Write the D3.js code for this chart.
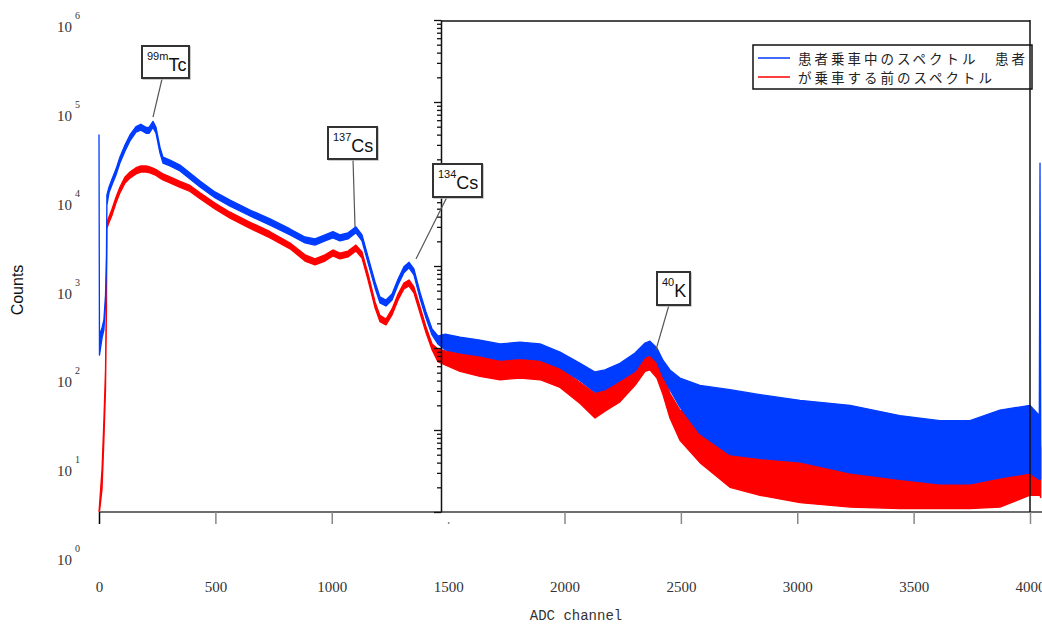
<!DOCTYPE html>
<html>
<head>
<meta charset="utf-8">
<script src="https://cdn.jsdelivr.net/npm/d3@7"></script>
<style>
  body { margin: 0; background: #fff; }
  svg { display: block; }
</style>
</head>
<body>
<script>
const channels = [0, 2, 13, 21, 28, 32, 34, 43, 56, 73, 90, 112, 133, 159, 180, 202, 215, 232, 245, 262,
  275, 305, 348, 391, 434, 498, 563, 649, 735, 821, 885, 928, 971, 1005, 1035, 1070, 1104, 1130, 1156,
  1186, 1207, 1233, 1259, 1285, 1310, 1332, 1353, 1379, 1405, 1431, 1456, 1487, 1551, 1637, 1723, 1809,
  1895, 1981, 2067, 2131, 2174, 2238, 2303, 2346, 2367, 2397, 2423, 2453, 2496, 2582, 2711, 2840, 3012,
  3227, 3441, 3613, 3742, 3871, 4000, 4040, 4043, 4046]

// patient on board: upper / lower edge of the noisy trace (counts)
const patientHi = [39600, 143, 176, 220, 442, 1370, 7340, 9200, 11500, 15200, 21300, 30000, 39600, 50000,
  53500, 49000, 49000, 58000, 49000, 28000, 21300, 19600, 17000, 13600, 10900, 8000, 6370, 4820, 3750,
  2830, 2260, 2140, 2400, 2620, 2400, 2540, 3000, 2400, 1290, 640, 420, 385, 455, 695, 980, 1110, 920,
  480, 275, 171, 140, 148, 136, 125, 112, 118, 112, 89, 65, 51, 54, 65, 87, 115, 121, 100, 71, 54, 43,
  35, 31, 27, 23, 20, 15, 13, 13, 17.5, 20, 15, 18000, 12]
const patientLo = [39600, 82, 132, 166, 335, 1030, 5530, 7800, 9800, 12900, 18000, 25300, 33500, 43000,
  45400, 41500, 41500, 49000, 41500, 23800, 18000, 16600, 14400, 11500, 9200, 6800, 5350, 4070, 3150,
  2400, 1910, 1800, 2020, 2200, 2020, 2140, 2540, 2020, 1090, 540, 355, 325, 385, 590, 827, 950, 780,
  405, 232, 144, 112, 95, 87, 80, 71, 75, 71, 57, 40, 29, 31, 40, 52, 78, 82, 67, 45, 31, 19,
  9, 5, 4.5, 4.1, 3, 2.5, 2.2, 2.2, 2.6, 3, 2.5, 18000, 2.5]

// before the patient boarded
const beforeHi = [1, 1.2, 3.3, 13, 54, 510, 3420, 4000, 4950, 6900, 9200, 12200, 14000, 15800,
  16600, 16600, 16300, 15600, 15000, 14000, 13300, 12200, 10800, 9600, 7800, 5850, 4530, 3420, 2620,
  1910, 1370, 1220, 1370, 1570, 1440, 1520, 1800, 1480, 800, 365, 250, 226, 300, 455, 620, 675, 555,
  318, 181, 112, 97, 92, 87, 80, 71, 75, 71, 57, 38, 28, 33, 43, 62, 82, 85, 67, 47, 28, 17.5,
  14, 11.5, 10.6, 8.7, 6.6, 5.7, 5, 5, 7.5, 10, 7.5, 7.5, 6]
const beforeLo = [1, 1, 1.9, 7.5, 31, 290, 2880, 3400, 4170, 5850, 7800, 10300, 11800, 13300,
  14000, 14000, 13800, 13200, 12700, 11800, 11200, 10300, 9100, 8100, 6600, 4950, 3830, 2880, 2200,
  1620, 1150, 1030, 1150, 1330, 1220, 1290, 1520, 1250, 675, 309, 210, 191, 253, 385, 525, 570, 470,
  268, 153, 95, 68, 62, 52, 45, 41, 43, 41, 33, 21, 14, 17, 22, 35, 52, 54, 43, 27, 14, 7.5,
  4, 2, 1.6, 1.3, 1.15, 1.1, 1.1, 1.1, 1.15, 1.6, 1.6, 1.6, 1.5]

const xTicks = [0, 500, 1000, 1500, 2000, 2500, 3000, 3500, 4000]
const yDecades = [0, 1, 2, 3, 4, 5, 6]
const legendLabels = ['患者乗車中のスペクトル　患者', 'が乗車する前のスペクトル']
const seriesColors = ['#003cff', '#ff0000']

// peak labels: isotope, and the point on the spectrum the leader points at
const peakSup = ['99m', '137', '134', '40']
const peakName = ['Tc', 'Cs', 'Cs', 'K']
const peakChannel = [232, 1100, 1362, 2393]
const peakCount = [65600, 2990, 1220, 95]
// label boxes [x, y, w, h] and where the leader leaves the box
const peakBoxes = [[142, 46, 47, 32], [328, 127, 49, 32], [433, 164, 49, 33], [657, 272, 33, 33]]
const peakLeaderStart = [[162, 79], [353, 159], [447, 197], [669, 305]]

const width = 1042
const height = 624

const x = d3.scaleLinear().domain([0, 4000]).range([99, 1030])
const y = d3.scaleLog().domain([1, 1e6]).range([512, 20]).clamp(true)
// the decade labels on the left sit on their own (shifted) ladder
const yLab = d3.scaleLog().domain([1, 1e6]).range([565, 32])

const svg = d3.select('body').append('svg').attr('width', width).attr('height', height)

svg.append('defs').append('clipPath').attr('id', 'plot')
  .append('rect').attr('x', 96).attr('y', 18).attr('width', width - 96).attr('height', 494)

const band = (hi, lo) => d3.area()
  .x(i => x(channels[i]))
  .y0(i => y(lo[i]))
  .y1(i => y(hi[i]))

const idx = d3.range(channels.length)
const data = svg.append('g').attr('clip-path', 'url(#plot)')

// red first, blue drawn over it
;[[beforeHi, beforeLo, seriesColors[1]], [patientHi, patientLo, seriesColors[0]]].forEach(([hi, lo, c]) => {
  data.append('path')
    .attr('d', band(hi, lo)(idx))
    .attr('fill', c)
    .attr('stroke', c)
    .attr('stroke-width', 1.3)
    .attr('stroke-linejoin', 'round')
})

// x axis
svg.append('line')
  .attr('x1', x(0)).attr('x2', width).attr('y1', 512).attr('y2', 512)
  .attr('stroke', '#6e6e6e').attr('stroke-width', 2)

const xAxis = svg.append('g').attr('transform', 'translate(0,512)')
  .call(d3.axisBottom(x).tickValues(xTicks).tickSize(12).tickPadding(57).tickFormat(d3.format('d')))
xAxis.select('.domain').remove()
xAxis.selectAll('.tick line')
  .attr('stroke', d => d === 0 ? '#000' : '#888')
  .attr('stroke-width', 1.5)
  .attr('y1', d => d === 1500 ? 10 : 0)
xAxis.selectAll('.tick text')
  .attr('font-family', '"Liberation Serif", serif')
  .attr('font-size', 15)
  .attr('fill', '#333')

// inner framed axis, log ticks without labels
const inner = svg.append('g').attr('transform', 'translate(441,0)')
  .call(d3.axisLeft(y).tickSizeOuter(0).tickFormat(''))
inner.select('.domain').attr('stroke', '#111').attr('stroke-width', 1.5)
inner.selectAll('.tick line')
  .attr('stroke', '#111')
  .attr('stroke-width', 1.3)
  .attr('x2', d => Math.abs(Math.log10(d) - Math.round(Math.log10(d))) < 1e-6 ? -7 : -4)

// legend
const legend = svg.append('g')
legend.append('rect')
  .attr('x', 753).attr('y', 45).attr('width', 279).attr('height', 44)
  .attr('fill', '#fff').attr('stroke', '#111').attr('stroke-width', 1.5)
legendLabels.forEach((t, i) => {
  legend.append('line')
    .attr('x1', 758).attr('x2', 790)
    .attr('y1', 58 + i * 19).attr('y2', 58 + i * 19)
    .attr('stroke', seriesColors[i]).attr('stroke-width', 1.5)
  legend.append('text')
    .attr('x', 798).attr('y', 64 + i * 19)
    .attr('font-family', '"Noto Sans CJK JP", sans-serif')
    .attr('font-size', 13.5)
    .attr('letter-spacing', 3)
    .attr('fill', '#222')
    .text(t)
})

// frame of the inner panel
svg.append('line')
  .attr('x1', 441).attr('x2', 1030).attr('y1', y(1e6) + 1).attr('y2', y(1e6) + 1)
  .attr('stroke', '#111').attr('stroke-width', 1.5)
svg.append('line')
  .attr('x1', 1030).attr('x2', 1030).attr('y1', y(1e6)).attr('y2', 512)
  .attr('stroke', '#111').attr('stroke-width', 1.5)

// decade labels 10^n
const yl = svg.append('g')
yDecades.forEach(n => {
  const t = yl.append('text')
    .attr('font-family', '"Liberation Serif", serif')
    .attr('fill', '#333')
  t.append('tspan').attr('x', 57).attr('y', yLab(Math.pow(10, n))).attr('font-size', 15).text('10')
  t.append('tspan').attr('x', 75).attr('y', yLab(Math.pow(10, n)) - 13).attr('font-size', 10).text(n)
})

// axis titles
svg.append('text')
  .attr('transform', 'translate(23,290) rotate(-90)')
  .attr('text-anchor', 'middle')
  .attr('font-family', '"Liberation Sans", Arial, sans-serif')
  .attr('font-size', 16)
  .attr('fill', '#111')
  .text('Counts')

svg.append('text')
  .attr('x', 576).attr('y', 620)
  .attr('text-anchor', 'middle')
  .attr('font-family', '"Liberation Mono", monospace')
  .attr('font-size', 14)
  .attr('fill', '#333')
  .text('ADC channel')

// peak annotations
peakSup.forEach((s, i) => {
  const [bx, by, bw, bh] = peakBoxes[i]
  const [lx, ly] = peakLeaderStart[i]
  svg.append('line')
    .attr('x1', lx).attr('y1', ly)
    .attr('x2', x(peakChannel[i])).attr('y2', y(peakCount[i]))
    .attr('stroke', '#555').attr('stroke-width', 1.2)
  svg.append('rect')
    .attr('x', bx + 1).attr('y', by + 1).attr('width', bw).attr('height', bh)
    .attr('fill', 'none').attr('stroke', '#bbb').attr('stroke-width', 1.5)
  svg.append('rect')
    .attr('x', bx).attr('y', by).attr('width', bw).attr('height', bh)
    .attr('fill', '#fff').attr('stroke', '#333').attr('stroke-width', 2)
  const t = svg.append('text')
    .attr('font-family', '"Liberation Sans", Arial, sans-serif')
    .attr('fill', '#111')
  t.append('tspan').attr('x', bx + 5).attr('y', by + 14).attr('font-size', 11).text(s)
  t.append('tspan').attr('dx', 0).attr('y', by + 25).attr('font-size', 18).text(peakName[i])
})
</script>
</body>
</html>
